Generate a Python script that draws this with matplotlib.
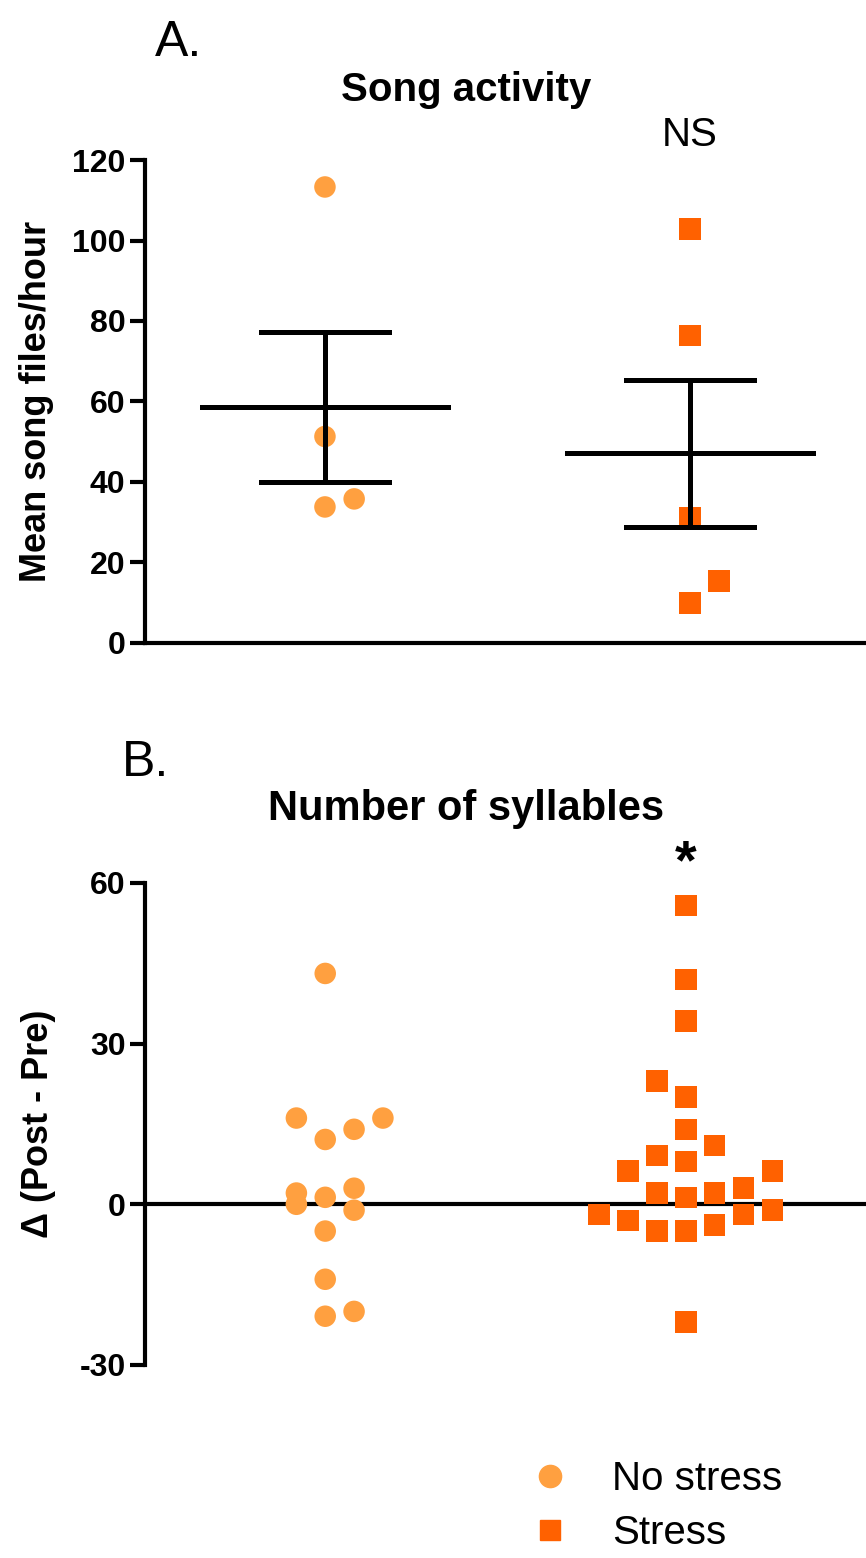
import matplotlib
matplotlib.use("Agg")
import matplotlib.pyplot as plt
from matplotlib.lines import Line2D

plt.rcParams['font.family'] = ['Liberation Sans', 'DejaVu Sans']
plt.rcParams['axes.unicode_minus'] = False

# colours
c_no = '#FFA040'
c_st = '#FF6100'

# ---- panel A: song activity ----
a_no_vals = [113.3, 51.3, 33.8, 35.8]
a_no_slot = [0, 0, 0, 1]
a_st_vals = [102.9, 76.4, 31.0, 9.9, 15.4]
a_st_slot = [0, 0, 0, 0, 1]
a_means = [58.6, 47.3]
a_upper = [77.3, 65.4]
a_lower = [40.1, 28.9]

# ---- panel B: number of syllables ----
b_no_vals = [43.1, 16.1, 12.1, 14.0, 16.1, 2.1, 0.0, 1.3, 3.0, -1.1, -5.0, -14.0, -20.9, -20.0]
b_no_slot = [0, -1, 0, 1, 2, -1, -1, 0, 1, 1, 0, 0, 0, 1]
b_st_vals = [55.8, 42.0, 34.2, 23.0, 20.0, 14.0, 11.0, 6.2, 9.1, 8.0, 2.1, 1.3, 2.1, 3.0, 6.2,
             -1.9, -3.0, -5.0, -5.0, -3.9, -1.9, -1.1, -22.0]
b_st_slot = [0, 0, 0, -1, 0, 0, 1, -2, -1, 0, -1, 0, 1, 2, 3,
             -3, -2, -1, 0, 1, 2, 3, 0]

groups = ['No stress', 'Stress']

fig = plt.figure(figsize=(8.66, 15.58), dpi=100)


def style_axis(ax):
    for s in ['top', 'right']:
        ax.spines[s].set_visible(False)
    ax.spines['left'].set_linewidth(3)
    ax.spines['bottom'].set_linewidth(3)
    ax.tick_params(axis='y', length=11, width=3, labelsize=23, pad=3)
    ax.set_xticks([])
    for lab in ax.get_yticklabels():
        lab.set_fontweight('bold')


# panel A
axA = fig.add_axes([0.1674, 0.5873, 0.8326, 0.31])
dx = 0.08
axA.scatter([1 + s * dx for s in a_no_slot], a_no_vals, marker='o', s=240, color=c_no,
            edgecolors='none', zorder=3)
axA.scatter([2 + s * dx for s in a_st_slot], a_st_vals, marker='s', s=240, color=c_st,
            edgecolors='none', zorder=3)
for i, x in enumerate([1, 2]):
    axA.plot([x - 0.337, x + 0.337], [a_means[i]] * 2, color='black', lw=3.6, zorder=4)
    axA.plot([x, x], [a_lower[i], a_upper[i]], color='black', lw=3.6, zorder=4)
    axA.plot([x - 0.175, x + 0.175], [a_upper[i]] * 2, color='black', lw=3.6, zorder=4)
    axA.plot([x - 0.175, x + 0.175], [a_lower[i]] * 2, color='black', lw=3.6, zorder=4)
axA.set_xlim(0.507, 2.482)
axA.set_ylim(0, 120)
axA.set_yticks(range(0, 121, 20))
style_axis(axA)
axA.set_ylabel('Mean song files/hour', fontsize=26, fontweight='bold')
axA.yaxis.set_label_coords(-0.126, 0.5)
axA.text(2.0, 126.2, 'NS', ha='center', va='center', fontsize=29, clip_on=False)

# panel B
axB = fig.add_axes([0.1674, 0.1239, 0.8326, 0.3094])
dxb = 0.08
axB.scatter([1 + s * dxb for s in b_no_slot], b_no_vals, marker='o', s=240, color=c_no,
            edgecolors='none', zorder=3)
axB.scatter([2 + s * dxb for s in b_st_slot], b_st_vals, marker='s', s=240, color=c_st,
            edgecolors='none', zorder=3)
axB.axhline(0, color='black', lw=3, zorder=2)
axB.set_xlim(0.5, 2.5)
axB.set_ylim(-30, 60)
axB.set_yticks([-30, 0, 30, 60])
style_axis(axB)
axB.spines['bottom'].set_visible(False)
axB.set_ylabel('\u0394 (Post - Pre)', fontsize=26, fontweight='bold')
axB.yaxis.set_label_coords(-0.124, 0.5)
axB.text(2.0, 63.5, '*', ha='center', va='center', fontsize=40, fontweight='bold',
         clip_on=False)

# panel letters and titles
fig.text(0.179, 0.9725, 'A.', fontsize=36, ha='left', va='center')
fig.text(0.141, 0.510, 'B.', fontsize=36, ha='left', va='center')
fig.text(0.538, 0.9425, 'Song activity', fontsize=29, fontweight='bold', ha='center', va='center')
fig.text(0.538, 0.481, 'Number of syllables', fontsize=30, fontweight='bold', ha='center', va='center')

handles = [Line2D([], [], marker='o', ls='none', color=c_no, markersize=16),
           Line2D([], [], marker='s', ls='none', color=c_st, markersize=15)]
fig.legend(handles, groups, loc='upper left', bbox_to_anchor=(0.570, 0.0735),
           frameon=False, fontsize=29, handletextpad=0.55, labelspacing=0.4,
           borderaxespad=0)

fig.savefig('out.png', dpi=100)
